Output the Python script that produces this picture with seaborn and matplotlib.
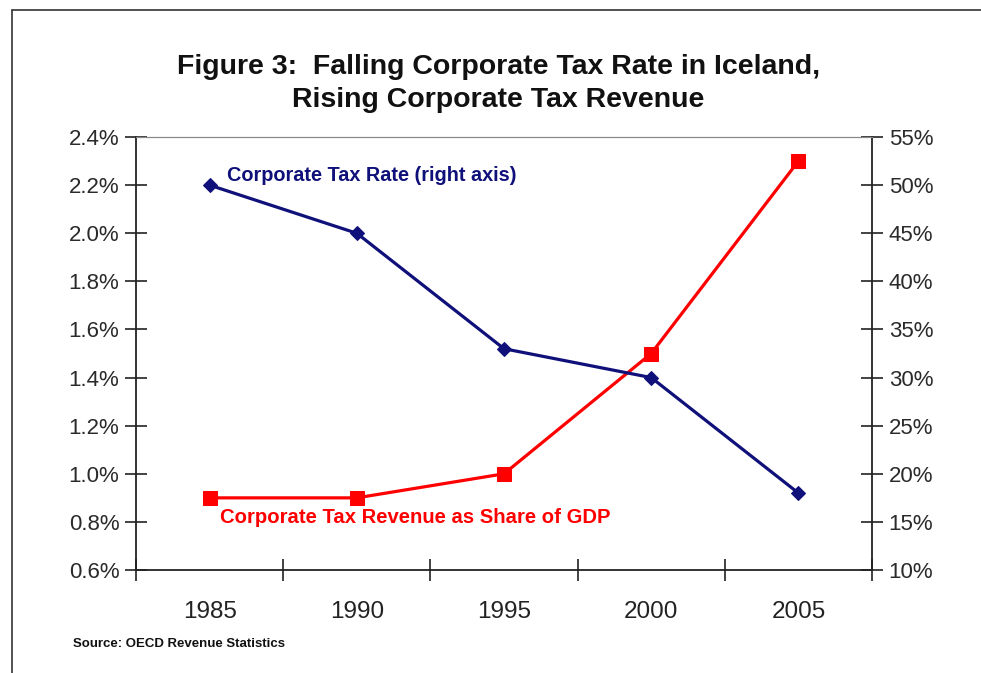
import pandas as pd
import matplotlib.pyplot as plt
import seaborn as sns
from matplotlib.lines import Line2D
from matplotlib.ticker import FuncFormatter, FixedLocator

# --- dados ---
years = ['1985', '1990', '1995', '2000', '2005']
revenue_share = [0.9, 0.9, 1.0, 1.5, 2.3]      # % do PIB (eixo esquerdo)
tax_rate = [50, 45, 33, 30, 18]                # % (eixo direito)

df = pd.DataFrame({'year': years, 'revenue': revenue_share, 'rate': tax_rate})

sns.set_theme(style="white")
plt.rcParams['font.family'] = ['Liberation Sans', 'DejaVu Sans']

fig = plt.figure(figsize=(9.81, 6.73), dpi=100)
ax = fig.add_axes([0.1386, 0.153, 0.7503, 0.6434])
ax2 = ax.twinx()

navy = '#10107a'
red = '#ff0000'

sns.lineplot(data=df, x='year', y='revenue', ax=ax, color=red, lw=2.3,
             marker='s', markersize=10, markeredgecolor=red, sort=False)
sns.lineplot(data=df, x='year', y='rate', ax=ax2, color=navy, lw=2.3,
             marker='D', markersize=7, markeredgecolor=navy, sort=False)

ax.set_xlim(-0.5, 4.5)
ax.set_ylim(0.6, 2.4)
ax2.set_ylim(10, 55)
ax.set_yticks([0.6 + 0.2 * i for i in range(10)])
ax2.set_yticks(list(range(10, 56, 5)))
ax.yaxis.set_major_formatter(FuncFormatter(lambda v, p: f'{v:.1f}%'))
ax2.yaxis.set_major_formatter(FuncFormatter(lambda v, p: f'{v:.0f}%'))

ax.set_xlabel('')
ax.set_ylabel('')
ax2.set_ylabel('')

# ticks nas fronteiras das categorias
ax.xaxis.set_minor_locator(FixedLocator([-0.5, 0.5, 1.5, 2.5, 3.5, 4.5]))
ax.tick_params(axis='x', which='major', length=0, pad=22, labelsize=17.5, colors='#222222')
ax.tick_params(axis='x', which='minor', direction='inout', length=16, width=1.2,
               color='#222222', bottom=True)
ax.tick_params(axis='y', direction='inout', length=16, width=1.2, color='#222222',
               labelsize=16, labelcolor='#2a2a2a', left=True, pad=4)
ax2.tick_params(axis='y', direction='inout', length=16, width=1.2, color='#222222',
                labelsize=16, labelcolor='#2a2a2a', right=True, pad=4)

for a in (ax, ax2):
    for s in ['left', 'right', 'bottom']:
        a.spines[s].set_color('#222222')
        a.spines[s].set_linewidth(1.3)
    a.spines['top'].set_color('#888888')
    a.spines['top'].set_linewidth(0.8)
    a.grid(False)
ax.spines['right'].set_visible(False)
ax2.spines['left'].set_visible(False)
ax2.spines['bottom'].set_visible(False)

# rótulos das séries
ax2.text(0.12, 51.0, 'Corporate Tax Rate (right axis)', color=navy, fontsize=14.3,
         fontweight='bold', ha='left', va='center')
ax.text(0.07, 0.82, 'Corporate Tax Revenue as Share of GDP', color=red, fontsize=14.6,
        fontweight='bold', ha='left', va='center')

fig.text(0.508, 0.9, 'Figure 3:  Falling Corporate Tax Rate in Iceland,', ha='center',
         va='center', fontsize=20.5, fontweight='bold', color='#111111')
fig.text(0.508, 0.851, 'Rising Corporate Tax Revenue', ha='center',
         va='center', fontsize=20.5, fontweight='bold', color='#111111')
fig.text(0.074, 0.043, 'Source: OECD Revenue Statistics', ha='left', va='center',
         fontsize=9.5, fontweight='bold', color='#111111')

# moldura externa
fig.add_artist(Line2D([12 / 981, 12 / 981], [0, 1 - 10 / 673], color='#333333', lw=1.2))
fig.add_artist(Line2D([12 / 981, 1], [1 - 10 / 673, 1 - 10 / 673], color='#333333', lw=1.2))

plt.savefig('out.png', dpi=100)
